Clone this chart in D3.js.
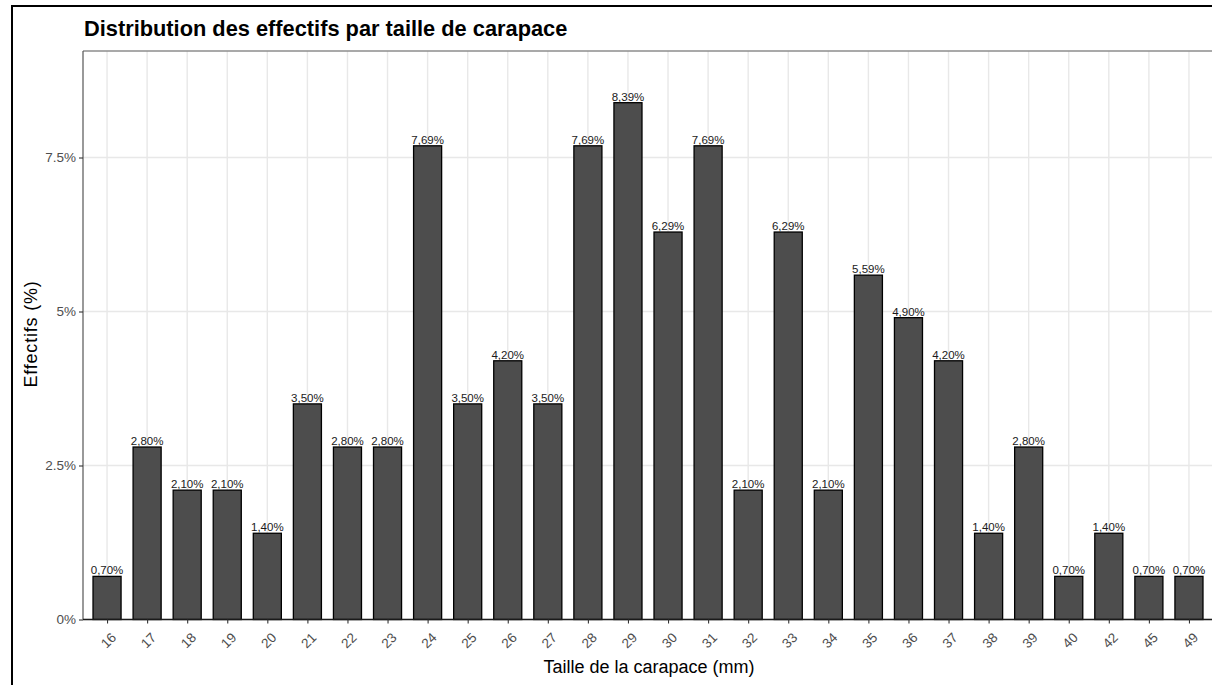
<!DOCTYPE html>
<html>
<head>
<meta charset="utf-8">
<script src="https://cdn.jsdelivr.net/npm/d3@7"></script>
<style>
  html, body { margin: 0; padding: 0; background: #fff; }
  svg { display: block; }
</style>
</head>
<body>
<script>
// Carapace sizes (mm) and share of individuals (%) in each class
const tailles = ["16","17","18","19","20","21","22","23","24","25","26","27","28","29","30","31","32","33","34","35","36","37","38","39","40","42","45","49"];
const effectifs = [0.70,2.80,2.10,2.10,1.40,3.50,2.80,2.80,7.69,3.50,4.20,3.50,7.69,8.39,6.29,7.69,2.10,6.29,2.10,5.59,4.90,4.20,1.40,2.80,0.70,1.40,0.70,0.70];
const yTicks = [0, 2.5, 5, 7.5];
const yTickLabels = ["0%", "2.5%", "5%", "7.5%"];

const W = 1212, H = 685;
const panel = { left: 83, right: 1213, top: 51, bottom: 619.5 };

const svg = d3.select("body").append("svg").attr("width", W).attr("height", H);

// outer frame (left and top edges)
svg.append("line").attr("x1", 12).attr("x2", 12).attr("y1", 5).attr("y2", H)
  .attr("stroke", "#000").attr("stroke-width", 2);
svg.append("line").attr("x1", 11).attr("x2", W).attr("y1", 6).attr("y2", 6)
  .attr("stroke", "#000").attr("stroke-width", 2);

const x = d3.scalePoint().domain(tailles).range([panel.left, panel.right]).padding(0.6);
const step = x.step();
const barW = step * 0.7;
const yMax = d3.max(effectifs) * 1.1;
const y = d3.scaleLinear().domain([0, yMax]).range([panel.bottom, panel.top]);

// grid
const grid = svg.append("g").attr("stroke", "#e8e8e8").attr("stroke-width", 1.4);
grid.selectAll("line.v").data(tailles).join("line")
  .attr("x1", d => x(d)).attr("x2", d => x(d))
  .attr("y1", panel.top).attr("y2", panel.bottom);
grid.selectAll("line.h").data(yTicks).join("line")
  .attr("x1", panel.left).attr("x2", panel.right)
  .attr("y1", d => y(d)).attr("y2", d => y(d));

// panel top edge
svg.append("line").attr("x1", panel.left).attr("x2", W).attr("y1", panel.top).attr("y2", panel.top)
  .attr("stroke", "#8c8c8c").attr("stroke-width", 1.4);

// bars
const data = tailles.map((t, i) => ({ t, v: effectifs[i] }));
svg.append("g").selectAll("rect").data(data).join("rect")
  .attr("x", d => x(d.t) - barW / 2)
  .attr("width", barW)
  .attr("y", d => y(d.v))
  .attr("height", d => y(0) - y(d.v))
  .attr("fill", "#4d4d4d")
  .attr("stroke", "#000")
  .attr("stroke-width", 1.3);

// value labels
const fmt = d3.format(".2f");
svg.append("g").selectAll("text").data(data).join("text")
  .attr("x", d => x(d.t))
  .attr("y", d => y(d.v) - 2)
  .attr("text-anchor", "middle")
  .attr("font-family", "Liberation Sans, Arial, sans-serif")
  .attr("font-size", 11.5)
  .attr("fill", "#1a1a1a")
  .text(d => fmt(d.v).replace(".", ",") + "%");

// y axis
const yAxis = d3.axisLeft(y).tickValues(yTicks)
  .tickFormat((d, i) => yTickLabels[i]).tickSize(4).tickPadding(3);
const gy = svg.append("g").attr("transform", `translate(${panel.left},0)`).call(yAxis);
gy.select(".domain").attr("stroke", "#555").attr("stroke-width", 1.2)
  .attr("d", `M0,${panel.top}V${panel.bottom}`);
gy.selectAll(".tick line").attr("stroke", "#333").attr("stroke-width", 1.1);
gy.selectAll(".tick text").attr("fill", "#4d4d4d")
  .attr("font-family", "Liberation Sans, Arial, sans-serif").attr("font-size", 13.5);

// x axis
const xAxis = d3.axisBottom(x).tickSize(4).tickSizeOuter(0);
const gx = svg.append("g").attr("transform", `translate(0,${panel.bottom})`).call(xAxis);
gx.select(".domain").attr("stroke", "#1a1a1a").attr("stroke-width", 1.3)
  .attr("d", `M${panel.left},0H${W}`);
gx.selectAll(".tick line").attr("stroke", "#333").attr("stroke-width", 1.1);
gx.selectAll(".tick text")
  .attr("fill", "#4d4d4d")
  .attr("font-family", "Liberation Sans, Arial, sans-serif").attr("font-size", 13.5)
  .attr("text-anchor", "middle")
  .attr("dy", null)
  .attr("y", 0)
  .attr("transform", "translate(1,21) rotate(-45)")
  .attr("dominant-baseline", "central");

// axis titles
svg.append("text")
  .attr("x", 649)
  .attr("y", 673)
  .attr("text-anchor", "middle")
  .attr("font-family", "Liberation Sans, Arial, sans-serif")
  .attr("font-size", 18)
  .attr("fill", "#000")
  .text("Taille de la carapace (mm)");

svg.append("text")
  .attr("transform", `translate(37,334) rotate(-90)`)
  .attr("text-anchor", "middle")
  .attr("font-family", "Liberation Sans, Arial, sans-serif")
  .attr("font-size", 18)
  .attr("letter-spacing", 0.8)
  .attr("fill", "#000")
  .text("Effectifs (%)");

// title
svg.append("text")
  .attr("x", 84)
  .attr("y", 36)
  .attr("font-family", "Liberation Sans Narrow, Arial Narrow, sans-serif")
  .attr("font-weight", "bold")
  .attr("font-size", 21.8)
  .attr("fill", "#000")
  .text("Distribution des effectifs par taille de carapace");
</script>
</body>
</html>
